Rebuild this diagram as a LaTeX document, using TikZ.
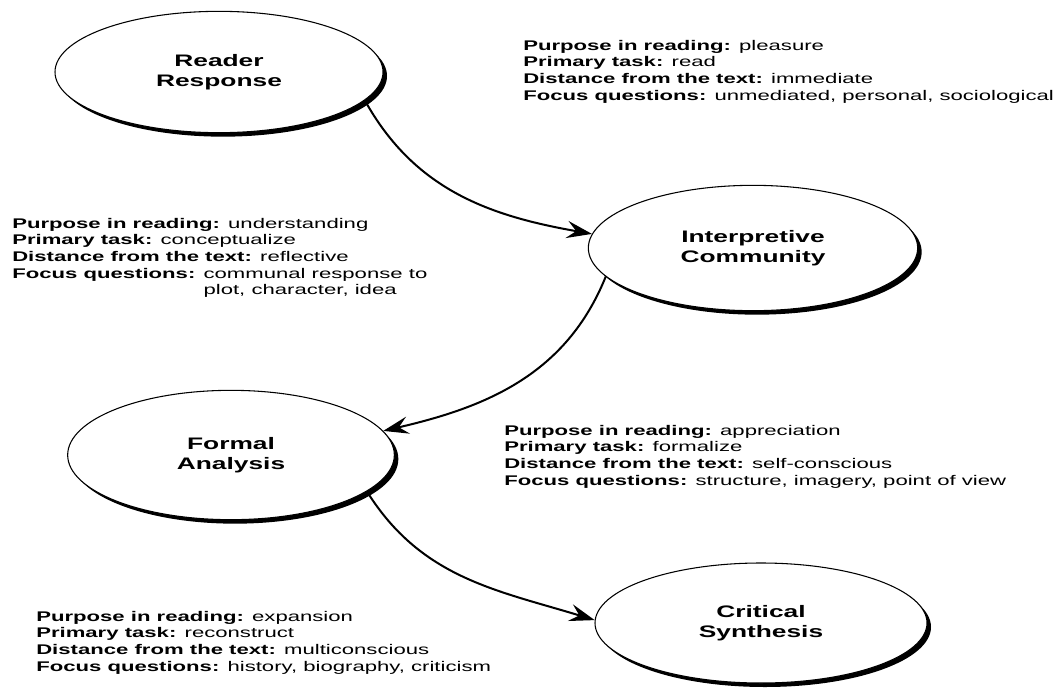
\documentclass[tikz,border=0pt]{standalone}
\usepackage{fontspec}
\setmainfont[FakeStretch=1.58]{Liberation Sans}
\usetikzlibrary{shapes.geometric,shadows,arrows.meta}

\begin{document}
\begin{tikzpicture}[x=0.75pt,y=0.75pt,
    stage/.style={ellipse,draw,line width=0.8pt,fill=white,inner sep=0pt,
        drop shadow={shadow xshift=3pt,shadow yshift=-3pt,fill=black,opacity=1},
        align=center,font=\fontsize{12.5}{15}\selectfont\bfseries},
    info/.style={align=left,inner sep=0pt,anchor=north west,
        font=\fontsize{10.5}{12.4}\selectfont},
    flow/.style={line width=1.5pt,-{Stealth[length=19pt,width=13pt,inset=7pt]}}]
    \useasboundingbox (0,0) rectangle (1063,-692);

    % the four stages
    \node[stage,minimum width=246pt,minimum height=91pt] (rr) at (219,-72) {Reader\\Response};
    \node[stage,minimum width=247pt,minimum height=94pt] (ic) at (753,-248) {Interpretive\\Community};
    \node[stage,minimum width=245pt,minimum height=97pt] (fa) at (231,-455) {Formal\\Analysis};
    \node[stage,minimum width=249pt,minimum height=90pt] (cs) at (761,-623) {Critical\\Synthesis};

    % what each stage is about
    \node[info] (rrinfo) at (523,-40) {\textbf{Purpose in reading:} pleasure\\
        \textbf{Primary task:} read\\
        \textbf{Distance from the text:} immediate\\
        \textbf{Focus questions:} unmediated, personal, sociological};
    \node[info] (icinfo) at (12,-218) {\textbf{Purpose in reading:} understanding\\
        \textbf{Primary task:} conceptualize\\
        \textbf{Distance from the text:} reflective\\
        \textbf{Focus questions:} communal response to\\
        \phantom{\textbf{Focus questions:} }plot, character, idea};
    \node[info] (fainfo) at (504,-425) {\textbf{Purpose in reading:} appreciation\\
        \textbf{Primary task:} formalize\\
        \textbf{Distance from the text:} self-conscious\\
        \textbf{Focus questions:} structure, imagery, point of view};
    \node[info] (csinfo) at (36,-611) {\textbf{Purpose in reading:} expansion\\
        \textbf{Primary task:} reconstruct\\
        \textbf{Distance from the text:} multiconscious\\
        \textbf{Focus questions:} history, biography, criticism};

    % moving from stage to stage
    \draw[flow] (rr.-11) to [out=-61, in=170] (ic.175);
    \draw[flow] (ic.191) to [out=-112, in=13] (fa.9);
    \draw[flow] (fa.-15) to [out=-58, in=163] (cs.179);
\end{tikzpicture}
\end{document}
